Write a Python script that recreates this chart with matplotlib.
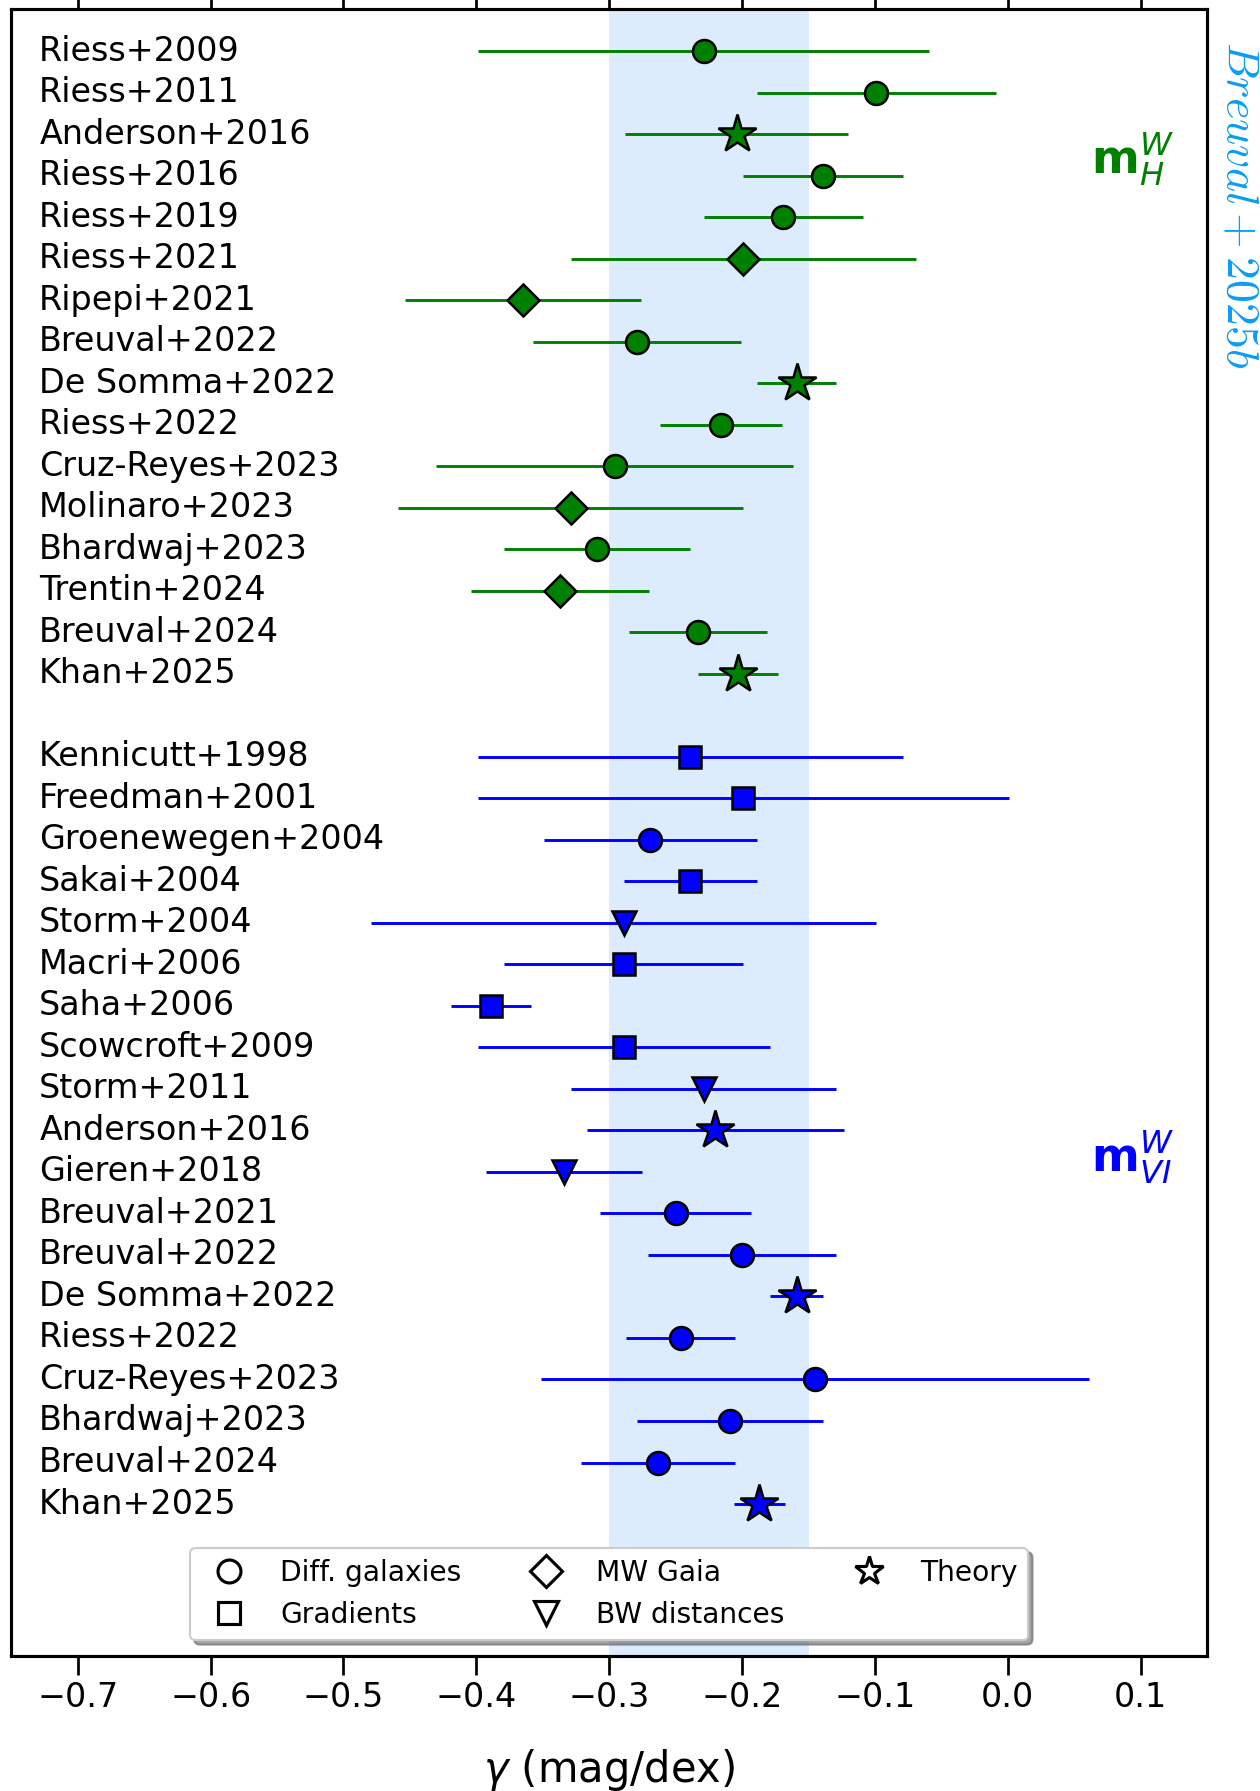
import matplotlib
matplotlib.use("Agg")
import matplotlib.pyplot as plt
from matplotlib.lines import Line2D

# ---------------- data ----------------
h_labels = ["Riess+2009", "Riess+2011", "Anderson+2016", "Riess+2016", "Riess+2019",
            "Riess+2021", "Ripepi+2021", "Breuval+2022", "De Somma+2022", "Riess+2022",
            "Cruz-Reyes+2023", "Molinaro+2023", "Bhardwaj+2023", "Trentin+2024",
            "Breuval+2024", "Khan+2025"]
h_gamma = [-0.229, -0.099, -0.204, -0.139, -0.169, -0.199, -0.365, -0.279, -0.159, -0.216,
           -0.296, -0.329, -0.309, -0.337, -0.233, -0.203]
h_err = [0.170, 0.090, 0.084, 0.060, 0.060, 0.130, 0.089, 0.078, 0.030, 0.046,
         0.134, 0.130, 0.070, 0.067, 0.052, 0.030]
h_type = ["diff", "diff", "theory", "diff", "diff", "gaia", "gaia", "diff", "theory", "diff",
          "diff", "gaia", "diff", "gaia", "diff", "theory"]

vi_labels = ["Kennicutt+1998", "Freedman+2001", "Groenewegen+2004", "Sakai+2004", "Storm+2004",
             "Macri+2006", "Saha+2006", "Scowcroft+2009", "Storm+2011", "Anderson+2016",
             "Gieren+2018", "Breuval+2021", "Breuval+2022", "De Somma+2022", "Riess+2022",
             "Cruz-Reyes+2023", "Bhardwaj+2023", "Breuval+2024", "Khan+2025"]
vi_gamma = [-0.239, -0.199, -0.269, -0.239, -0.289, -0.289, -0.389, -0.289, -0.229, -0.220,
            -0.334, -0.250, -0.200, -0.159, -0.246, -0.145, -0.209, -0.263, -0.187]
vi_err = [0.160, 0.200, 0.080, 0.050, 0.190, 0.090, 0.030, 0.110, 0.100, 0.097,
          0.059, 0.057, 0.071, 0.020, 0.041, 0.206, 0.070, 0.058, 0.019]
vi_type = ["grad", "grad", "diff", "grad", "bw", "grad", "grad", "grad", "bw", "theory",
           "bw", "diff", "diff", "theory", "diff", "diff", "diff", "diff", "theory"]

band = (-0.30, -0.15)
xticks = [-0.7, -0.6, -0.5, -0.4, -0.3, -0.2, -0.1, 0.0, 0.1]

markers = {"diff": "o", "grad": "s", "gaia": "D", "bw": "v", "theory": "*"}
msizes = {"diff": 11, "grad": 11, "gaia": 11, "bw": 11.5, "theory": 19}
legend_order = [("diff", "Diff. galaxies"), ("grad", "Gradients"), ("gaia", "MW Gaia"),
                ("bw", "BW distances"), ("theory", "Theory")]

# ---------------- plot ----------------
fig = plt.figure(figsize=(8.4, 11.94), dpi=150)
ax = fig.add_axes([0.009, 0.0754, 0.949, 0.9195])

ax.axvspan(band[0], band[1], color="#dcecfc", zorder=0, lw=0)

def draw(labels, vals, errs, types, y0, color):
    for i, (lab, v, e, t) in enumerate(zip(labels, vals, errs, types)):
        y = y0 + i
        ax.errorbar(v, y, xerr=e, fmt=markers[t], color=color, mfc=color, mec="black",
                    mew=1.2, ms=msizes[t], elinewidth=1.4, capsize=0, zorder=3)
        ax.text(-0.729, y, lab, ha="left", va="center", fontsize=16, zorder=4)

draw(h_labels, h_gamma, h_err, h_type, 0, "green")
draw(vi_labels, vi_gamma, vi_err, vi_type, len(h_labels) + 1, "blue")

ax.text(0.125, 2.6, r"$\mathbf{m}_{H}^{W}$", color="green", fontsize=22,
        ha="right", va="center")
ax.text(0.125, 26.65, r"$\mathbf{m}_{VI}^{W}$", color="blue", fontsize=22,
        ha="right", va="center")

fig.text(0.9660, 0.977, r"$Breuval+2025b$", color="#0a9cf5", fontsize=22,
         rotation=-90, ha="left", va="top", math_fontfamily="cm")

ax.set_xlim(-0.75, 0.15)
ax.set_ylim(38.66, -1.01)
ax.set_yticks([])
ax.set_xticks(xticks)
ax.set_xticklabels([f"{t:.1f}".replace("-", "\u2212") for t in xticks])
ax.tick_params(axis="x", which="both", direction="out", length=9, width=1.3,
               labelsize=16, top=True, labeltop=False, pad=3)
for s in ax.spines.values():
    s.set_linewidth(1.5)
ax.set_xlabel(r"$\gamma$ (mag/dex)", fontsize=20, labelpad=16)

handles = [Line2D([], [], ls="none", marker=markers[k], ms=msizes[k] * (0.75 if k == "theory" else 1.0),
                  mfc="white", mec="black", mew=1.5) for k, _ in legend_order]
labels = [lab for _, lab in legend_order]
ax.legend(handles, labels, loc="lower center", ncol=3, fontsize=13.5, shadow=True,
          fancybox=True, columnspacing=2.0, handletextpad=0.8, borderaxespad=0.55)

fig.savefig("out.png", dpi=150)
